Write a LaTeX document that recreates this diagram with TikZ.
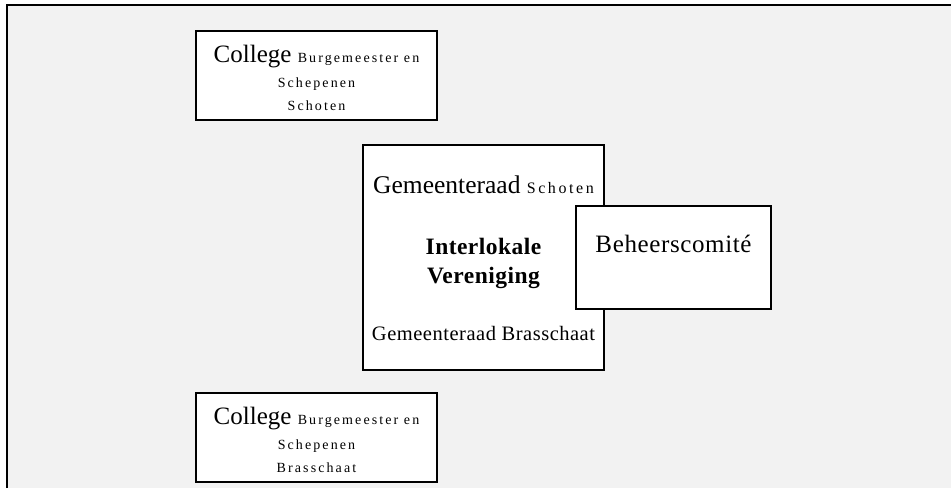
\documentclass[tikz,border=0pt]{standalone}
\usepackage{fontspec}
\setmainfont{Liberation Serif}
% tracked variants for the smaller words
\newfontfamily\trackwide[LetterSpace=15]{Liberation Serif}
\newfontfamily\trackmid[LetterSpace=16]{Liberation Serif}
\newfontfamily\tracklight[LetterSpace=2.5]{Liberation Serif}
\newfontfamily\trackbold[LetterSpace=2,BoldFont={Liberation Serif Bold}]{Liberation Serif}
\definecolor{panel}{HTML}{F2F2F2}
\newcommand{\fsz}[1]{\fontsize{#1pt}{#1pt}\selectfont}
\begin{document}
\begin{tikzpicture}[x=1pt,y=-1pt,
  orgbox/.style={draw=black, line width=1.4pt, fill=white, rectangle, inner sep=0pt},
  txt/.style={anchor=base, inner sep=0pt, align=center}]
  \useasboundingbox (0,0) rectangle (951,488);
  % page and panel with its top and left rules
  \fill[white] (0,0) rectangle (951,488);
  \fill[panel] (7,5) rectangle (951,488);
  \draw[line width=2pt] (7,488) -- (7,5) -- (951,5);

  % College Schoten
  \node[orgbox, minimum width=241pt, minimum height=89pt] (colS) at (316.5,75.5) {};
  \node[txt] (colS1) at (316.5,62) {\fsz{25}College {\trackwide\fsz{14}Burgemeester en}};
  \node[txt] (colS2) at (316.5,87) {\trackwide\fsz{14}Schepenen};
  \node[txt] (colS3) at (316.5,110) {\trackwide\fsz{14}Schoten};

  % Interlokale Vereniging
  \node[orgbox, minimum width=241pt, minimum height=225pt] (iv) at (483.5,257.5) {};
  \node[txt] (gS) at (483.5,193) {\fsz{25.5}Gemeenteraad {\trackmid\fsz{16}Schoten}};
  \node[txt] (iv1) at (483.5,254) {\trackbold\bfseries\fsz{23.5}Interlokale};
  \node[txt] (iv2) at (483.5,283) {\trackbold\bfseries\fsz{23.5}Vereniging};
  \node[txt] (gB) at (483.5,340) {\tracklight\fsz{20.5}Gemeenteraad Brasschaat};

  % Beheerscomité
  \node[orgbox, minimum width=195pt, minimum height=103pt] (bc) at (673.5,257.5) {};
  \node[txt] (bc1) at (673.5,252) {\tracklight\fsz{25}Beheerscomité};

  % College Brasschaat
  \node[orgbox, minimum width=241pt, minimum height=89pt] (colB) at (316.5,437.5) {};
  \node[txt] (colB1) at (316.5,424) {\fsz{25}College {\trackwide\fsz{14}Burgemeester en}};
  \node[txt] (colB2) at (316.5,449) {\trackwide\fsz{14}Schepenen};
  \node[txt] (colB3) at (316.5,472) {\trackwide\fsz{14}Brasschaat};
\end{tikzpicture}
\end{document}
